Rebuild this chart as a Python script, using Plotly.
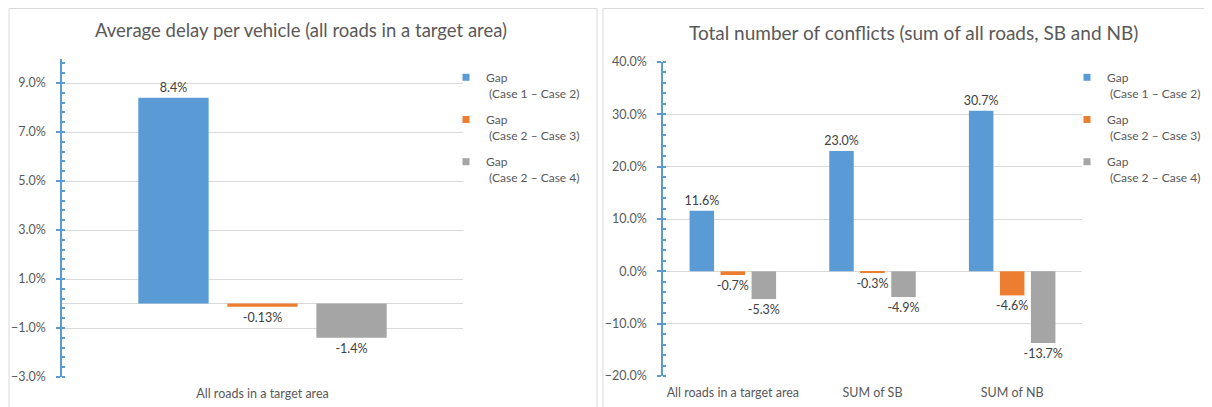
import plotly.graph_objects as go

# ---------------- data ----------------
series_names = ["Gap<br> (Case 1 \u2013 Case 2)", "Gap<br> (Case 2 \u2013 Case 3)", "Gap<br> (Case 2 \u2013 Case 4)"]
series_colors = ["#5B9BD5", "#ED7D31", "#A5A5A5"]

delay_categories = ["All roads in a target area"]
delay_case1_case2 = [8.4]
delay_case2_case3 = [-0.13]
delay_case2_case4 = [-1.4]

conflict_categories = ["All roads in a target area", "SUM of SB", "SUM of NB"]
conflict_case1_case2 = [11.6, 23.0, 30.7]
conflict_case2_case3 = [-0.7, -0.3, -4.6]
conflict_case2_case4 = [-5.3, -4.9, -13.7]

title_left = "Average delay per vehicle (all roads in a target area)"
title_right = "Total number of conflicts (sum of all roads, SB and NB)"

# the page body has an 8px margin, so the figure starts 8px in from the window
OFF = 8
W, H = 1212 - OFF, 407 - OFF
FONT = "Lato"
TXT = "#595959"
GRID = "#D9D9D9"
AXIS = "#5B9BD5"


def X(p):
    return (p - OFF) / W


def Y(p):
    return 1 - (p - OFF) / H


fig = go.Figure()

delay_series = [delay_case1_case2, delay_case2_case3, delay_case2_case4]
conflict_series = [conflict_case1_case2, conflict_case2_case3, conflict_case2_case4]

for i, vals in enumerate(delay_series):
    fig.add_trace(go.Bar(
        x=delay_categories, y=vals, xaxis="x", yaxis="y",
        marker=dict(color=series_colors[i], line=dict(width=0)),
        text=[f"{v:g}%" for v in vals], textposition="outside",
        cliponaxis=False, constraintext="none",
        textfont=dict(family=FONT, size=12.5, color="#404040"),
        showlegend=False, hoverinfo="skip",
    ))
    fig.add_trace(go.Scatter(
        x=[None], y=[None], xaxis="x", yaxis="y", mode="markers",
        marker=dict(symbol="square", size=7, color=series_colors[i]),
        name=series_names[i], legend="legend", legendgroup="l%d" % i,
        showlegend=True,
    ))

for i, vals in enumerate(conflict_series):
    fig.add_trace(go.Bar(
        x=conflict_categories, y=vals, xaxis="x2", yaxis="y2",
        marker=dict(color=series_colors[i], line=dict(width=0)),
        text=[f"{v:.1f}%" for v in vals], textposition="outside",
        cliponaxis=False, constraintext="none",
        textfont=dict(family=FONT, size=12.5, color="#404040"),
        showlegend=False, hoverinfo="skip",
    ))
    fig.add_trace(go.Scatter(
        x=[None], y=[None], xaxis="x2", yaxis="y2", mode="markers",
        marker=dict(symbol="square", size=7, color=series_colors[i]),
        name=series_names[i], legend="legend2", legendgroup="r%d" % i,
        showlegend=True,
    ))

xaxis_common = dict(
    type="category", showgrid=False, showline=False, ticks="", zeroline=False,
    automargin=False,
    tickfont=dict(family=FONT, size=12.5, color=TXT), ticklabelstandoff=7,
)
yaxis_common = dict(
    showgrid=True, gridcolor=GRID, gridwidth=1, automargin=False,
    zeroline=True, zerolinecolor=GRID, zerolinewidth=1,
    showline=True, linecolor=AXIS, linewidth=1.5,
    ticks="outside", ticklen=4, tickcolor=AXIS, tickwidth=1.5,
    ticksuffix="%", tickformat=".1f",
    tickfont=dict(family=FONT, size=12.5, color=TXT), ticklabelstandoff=8,
)

fig.update_layout(
    width=W, height=H,
    margin=dict(l=0, r=0, t=0, b=0, pad=0),
    paper_bgcolor="white", plot_bgcolor="white",
    barmode="group", bargap=0.334, bargroupgap=0.21,
    font=dict(family=FONT, color=TXT),
    xaxis=dict(domain=[X(62), X(463)], anchor="y", **xaxis_common),
    yaxis=dict(domain=[Y(377), Y(58.5)], anchor="x", range=[-3, 10],
               tick0=-3, dtick=2,
               minor=dict(dtick=0.4, tick0=-3, ticks="inside", ticklen=3,
                          tickcolor=AXIS, showgrid=False),
               **yaxis_common),
    xaxis2=dict(domain=[X(663), X(1082)], anchor="y2", **xaxis_common),
    yaxis2=dict(domain=[Y(376), Y(62)], anchor="x2", range=[-20, 40],
                tick0=-20, dtick=10,
                minor=dict(dtick=2, tick0=-20, ticks="inside", ticklen=3,
                           tickcolor=AXIS, showgrid=False),
                **yaxis_common),
    legend=dict(x=X(446), y=Y(63), xanchor="left", yanchor="top",
                bgcolor="rgba(0,0,0,0)", valign="top", traceorder="grouped",
                tracegroupgap=8, font=dict(family=FONT, size=12, color=TXT)),
    legend2=dict(x=X(1067), y=Y(63), xanchor="left", yanchor="top",
                 bgcolor="rgba(0,0,0,0)", valign="top", traceorder="grouped",
                 tracegroupgap=8, font=dict(family=FONT, size=12, color=TXT)),
    annotations=[
        dict(text=title_left, x=X(301), y=Y(30), xref="paper", yref="paper",
             showarrow=False, xanchor="center", yanchor="middle",
             font=dict(family=FONT, size=18.5, color=TXT)),
        dict(text=title_right, x=X(913), y=Y(32), xref="paper", yref="paper",
             showarrow=False, xanchor="center", yanchor="middle",
             font=dict(family=FONT, size=19, color=TXT)),
    ],
    shapes=[
        dict(type="rect", xref="paper", yref="paper", x0=X(9), x1=X(597), y0=Y(420), y1=Y(8.5),
             line=dict(color=GRID, width=1), fillcolor="rgba(0,0,0,0)", layer="below"),
        dict(type="rect", xref="paper", yref="paper", x0=X(603), x1=X(1210), y0=Y(420), y1=Y(8.5),
             line=dict(color=GRID, width=1), fillcolor="rgba(0,0,0,0)", layer="below"),
    ],
)

fig.write_html("out.html")
